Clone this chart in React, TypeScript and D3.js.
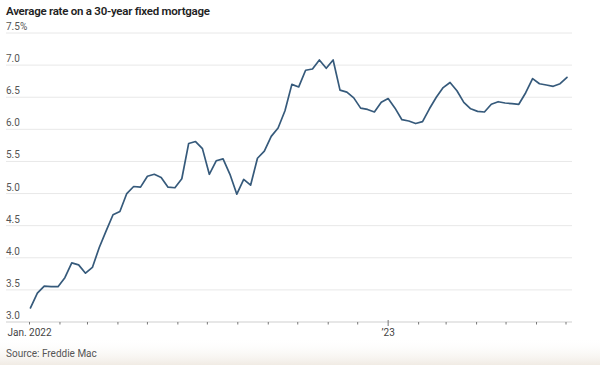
import { useMemo } from 'react';
import * as d3 from 'd3';

// Freddie Mac weekly release dates (Thursdays), plotted at the start of their week
const releaseDates = [
  '2022-01-06', '2022-01-13', '2022-01-20', '2022-01-27', '2022-02-03', '2022-02-10',
  '2022-02-17', '2022-02-24', '2022-03-03', '2022-03-10', '2022-03-17', '2022-03-24',
  '2022-03-31', '2022-04-07', '2022-04-14', '2022-04-21', '2022-04-28', '2022-05-05',
  '2022-05-12', '2022-05-19', '2022-05-26', '2022-06-02', '2022-06-09', '2022-06-16',
  '2022-06-23', '2022-06-30', '2022-07-07', '2022-07-14', '2022-07-21', '2022-07-28',
  '2022-08-04', '2022-08-11', '2022-08-18', '2022-08-25', '2022-09-01', '2022-09-08',
  '2022-09-15', '2022-09-22', '2022-09-29', '2022-10-06', '2022-10-13', '2022-10-20',
  '2022-10-27', '2022-11-03', '2022-11-10', '2022-11-17', '2022-11-23', '2022-12-01',
  '2022-12-08', '2022-12-15', '2022-12-22', '2022-12-29', '2023-01-05', '2023-01-12',
  '2023-01-19', '2023-01-26', '2023-02-02', '2023-02-09', '2023-02-16', '2023-02-23',
  '2023-03-02', '2023-03-09', '2023-03-16', '2023-03-23', '2023-03-30', '2023-04-06',
  '2023-04-13', '2023-04-20', '2023-04-27', '2023-05-04', '2023-05-11', '2023-05-18',
  '2023-05-25', '2023-06-01', '2023-06-08', '2023-06-15', '2023-06-22', '2023-06-29',
  '2023-07-06',
];

// average 30-year fixed rate, %
const rates = [
  3.22, 3.45, 3.56, 3.55, 3.55, 3.69,
  3.92, 3.89, 3.76, 3.85, 4.16, 4.42,
  4.67, 4.72, 5.0, 5.11, 5.1, 5.27,
  5.3, 5.25, 5.1, 5.09, 5.23, 5.78,
  5.81, 5.7, 5.3, 5.51, 5.54, 5.3,
  4.99, 5.22, 5.13, 5.55, 5.66, 5.89,
  6.02, 6.29, 6.7, 6.66, 6.92, 6.94,
  7.08, 6.95, 7.08, 6.61, 6.58, 6.49,
  6.33, 6.31, 6.27, 6.42, 6.48, 6.33,
  6.15, 6.13, 6.09, 6.12, 6.32, 6.5,
  6.65, 6.73, 6.6, 6.42, 6.32, 6.28,
  6.27, 6.39, 6.43, 6.41, 6.4, 6.39,
  6.57, 6.79, 6.71, 6.69, 6.67, 6.71,
  6.81,
];

const yTicks = [3.0, 3.5, 4.0, 4.5, 5.0, 5.5, 6.0, 6.5, 7.0, 7.5];

const xLabels = [
  { date: '2022-01-01', label: 'Jan. 2022' },
  { date: '2023-01-01', label: '\u201923' },
];

const W = 600;
const H = 365;
const parse = d3.utcParse('%Y-%m-%d');
const labelFont = '"Liberation Sans Narrow", "Roboto", sans-serif';

export default function App() {
  const x = useMemo(
    () =>
      d3
        .scaleUtc()
        .domain([new Date(Date.UTC(2022, 0, 1)), new Date(Date.UTC(2023, 6, 1))])
        .range([29.5, 566]),
    []
  );
  const y = useMemo(() => d3.scaleLinear().domain([3, 7.5]).range([322, 33]), []);

  const points = releaseDates.map((d, i) => ({
    date: d3.utcSunday.floor(parse(d) as Date),
    value: rates[i],
  }));

  const line = d3
    .line<{ date: Date; value: number }>()
    .x((d) => x(d.date))
    .y((d) => y(d.value));

  const months = d3.utcMonth.range(
    new Date(Date.UTC(2022, 0, 1)),
    new Date(Date.UTC(2023, 6, 2))
  );

  return (
    <div style={{ position: 'absolute', left: 0, top: 0 }}>
      <svg width={W} height={H} style={{ display: 'block', background: '#fff' }}>
        <defs>
          <linearGradient id="paper" x1="0" y1="0" x2="0" y2="1">
            <stop offset="0" stopColor="#ffffff" stopOpacity={0} />
            <stop offset="1" stopColor="#efe9e1" stopOpacity={0.9} />
          </linearGradient>
        </defs>
        <rect x={0} y={338} width={W} height={H - 338} fill="url(#paper)" />

        {/* Title */}
        <text
          x={6}
          y={15}
          fontFamily='"Roboto", sans-serif'
          fontWeight={600}
          fontSize={11.5}
          letterSpacing={-0.25}
          fill="#222"
        >
          Average rate on a 30-year fixed mortgage
        </text>

        {/* Gridlines + y labels */}
        <g>
          {yTicks.map((t) => (
            <g key={t}>
              <line
                x1={6}
                x2={572}
                y1={y(t)}
                y2={y(t)}
                stroke={t === 3 ? '#cfcfcf' : '#e8e8e8'}
                strokeWidth={1}
              />
              <text
                x={6}
                y={y(t) - 3}
                fontFamily={labelFont}
                fontSize={10}
                fill="#555"
              >
                {t === 7.5 ? '7.5%' : t.toFixed(1)}
              </text>
            </g>
          ))}
        </g>

        {/* Month ticks */}
        <g>
          {months.map((m) => {
            const isNewYear = m.getUTCMonth() === 0 && m.getUTCFullYear() === 2023;
            return (
              <line
                key={m.toISOString()}
                x1={x(m)}
                x2={x(m)}
                y1={isNewYear ? 320 : 322}
                y2={isNewYear ? 326 : 324.5}
                stroke="#777"
                strokeWidth={1}
              />
            );
          })}
          {xLabels.map((l) => (
            <text
              key={l.label}
              x={x(parse(l.date) as Date)}
              y={336}
              textAnchor="middle"
              fontFamily={labelFont}
              fontSize={10}
              fill="#444"
            >
              {l.label}
            </text>
          ))}
        </g>

        {/* Rate line */}
        <path
          d={line(points) ?? ''}
          fill="none"
          stroke="#365a7b"
          strokeWidth={1.7}
          strokeLinejoin="round"
          strokeLinecap="round"
        />

        {/* Source */}
        <text x={6} y={357} fontFamily={labelFont} fontSize={10} fill="#555">
          Source: Freddie Mac
        </text>
      </svg>
    </div>
  );
}
